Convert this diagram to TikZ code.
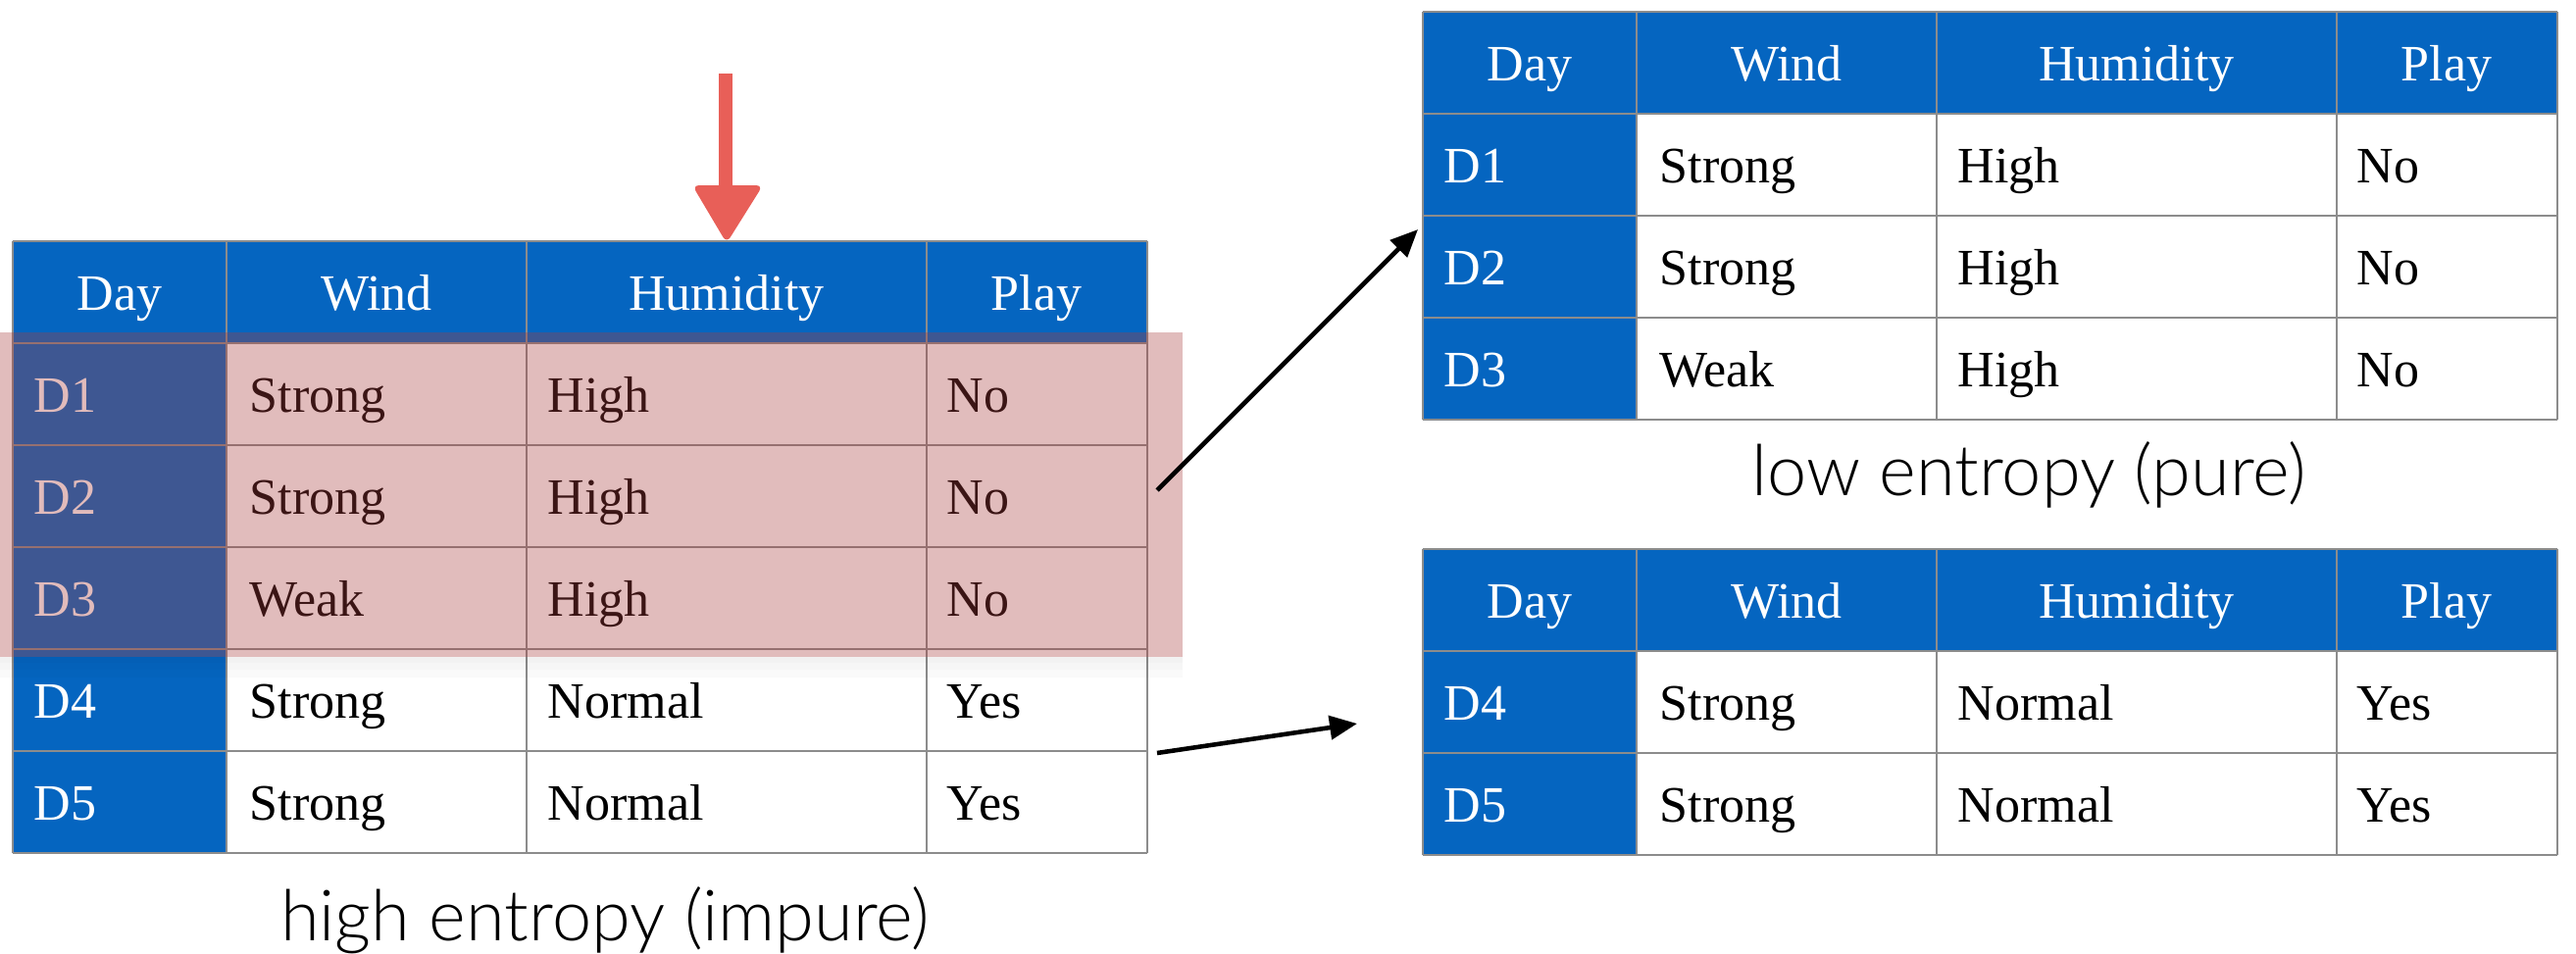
\documentclass[tikz,border=0pt]{standalone}
\usepackage{fontspec}
\setmainfont{Liberation Serif}
\newfontfamily\capfont{Lato Light}
\usetikzlibrary{arrows.meta}

\definecolor{hdrblue}{RGB}{5,101,192}
\definecolor{gridgray}{RGB}{140,140,140}
\definecolor{markred}{RGB}{232,95,88}
\definecolor{selpink}{RGB}{170,62,62}

\tikzset{
  cell/.style={font=\fontsize{14.8}{16}\selectfont, inner sep=0pt, anchor=base west},
  daycell/.style={cell, text=white},
  head/.style={font=\fontsize{14.8}{16}\selectfont, text=white, inner sep=0pt, anchor=base},
  gridline/.style={draw=gridgray, line width=0.75pt},
  bluefill/.style={fill=hdrblue},
  caption/.style={font=\capfont\fontsize{20.5}{22}\selectfont, inner sep=0pt, anchor=base},
  split/.style={line width=1.3pt, -{Triangle[length=0.28cm,width=0.24cm]}},
  selection/.style={fill=selpink, opacity=0.35},
}

% #1 name prefix, #2/#3 top-left corner, #4 number of data rows,
% #5 rows as Day/Wind/Humidity/Play
\newcommand\weathertable[5]{%
  \begin{scope}[shift={(#2,#3)}]
    \pgfmathtruncatemacro\tblbottom{104*(#4+1)}
    \fill[bluefill] (0,0) rectangle (1157,104);
    \fill[bluefill] (0,104) rectangle (218,\tblbottom);
    \foreach \k in {0,...,#4} {
      \pgfmathtruncatemacro\yy{104*(\k+1)}
      \draw[gridline] (0,\yy) -- (1157,\yy);
    }
    \draw[gridline] (0,0) -- (1157,0);
    \foreach \xx in {0,218,524,932,1157}
      \draw[gridline] (\xx,0) -- (\xx,\tblbottom);
    \node[head] (#1-h1) at (109,70) {Day};
    \node[head] (#1-h2) at (371,70) {Wind};
    \node[head] (#1-h3) at (728,70) {Humidity};
    \node[head] (#1-h4) at (1044,70) {Play};
    \foreach \d/\w/\h/\p [count=\i] in {#5} {
      \pgfmathtruncatemacro\by{104*\i+70}
      \node[daycell] (#1-r\i-c1) at (21,\by) {\d};
      \node[cell] (#1-r\i-c2) at (241,\by) {\w};
      \node[cell] (#1-r\i-c3) at (545,\by) {\h};
      \node[cell] (#1-r\i-c4) at (952,\by) {\p};
    }
  \end{scope}%
}

\begin{document}
\begin{tikzpicture}[x=0.01cm, y=-0.01cm]
  \useasboundingbox (0,0) rectangle (2627,972);

  % full data set
  \weathertable{all}{13}{246}{5}{D1/Strong/High/No, D2/Strong/High/No,
    D3/Weak/High/No, D4/Strong/Normal/Yes, D5/Strong/Normal/Yes}

  % highlighted rows with a soft shadow below
  \fill[black, opacity=0.05] (0,670) rectangle (1206,676);
  \fill[black, opacity=0.035] (0,676) rectangle (1206,683);
  \fill[black, opacity=0.02] (0,683) rectangle (1206,691);
  \fill[selection] (0,339) rectangle (1206,670);

  % split attribute marker
  \draw[markred, line width=4.2pt] (740,75) -- (740,196);
  \fill[markred, rounded corners=2pt] (706,189) -- (778,189) -- (741,248) -- cycle;

  % subsets after the split
  \weathertable{high}{1451}{12}{3}{D1/Strong/High/No, D2/Strong/High/No,
    D3/Weak/High/No}
  \weathertable{normal}{1451}{560}{2}{D4/Strong/Normal/Yes, D5/Strong/Normal/Yes}

  \node[caption] (cap-high) at (617,959) {high entropy (impure)};
  \node[caption] (cap-low) at (2069,505) {low entropy (pure)};

  % split arrows
  \coordinate (from-high) at (1180,500);
  \coordinate (to-high) at (1446,234);
  \coordinate (from-normal) at (1180,768);
  \coordinate (to-normal) at (1384,738);
  \draw[split] (from-high) -- (to-high);
  \draw[split] (from-normal) -- (to-normal);
\end{tikzpicture}
\end{document}
